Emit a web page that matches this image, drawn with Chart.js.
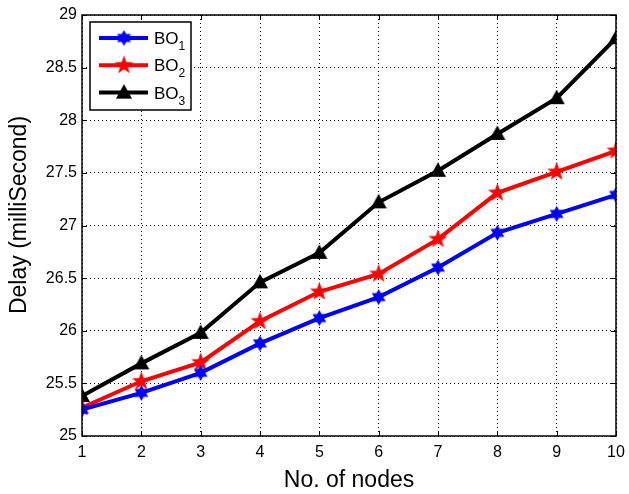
<!DOCTYPE html>
<html>
<head>
<meta charset="utf-8" />
<title>Delay vs nodes</title>
<script src="https://cdn.jsdelivr.net/npm/chart.js"></script>
<style>
  html, body { margin: 0; padding: 0; background: #fff; }
  #wrap { width: 629px; height: 494px; position: relative; }
</style>
</head>
<body>
<div id="wrap"><canvas id="chart"></canvas></div>
<script>
// delay per number of nodes, one list per BO value
const nodes = [1, 2, 3, 4, 5, 6, 7, 8, 9, 10];
const bo1 = [25.25, 25.41, 25.60, 25.88, 26.12, 26.32, 26.60, 26.93, 27.11, 27.29];
const bo2 = [25.27, 25.52, 25.70, 26.09, 26.37, 26.54, 26.87, 27.31, 27.51, 27.71];
const bo3 = [25.38, 25.69, 25.98, 26.46, 26.74, 27.22, 27.52, 27.87, 28.21, 28.78];
const yTicks = [25, 25.5, 26, 26.5, 27, 27.5, 28, 28.5, 29];
const seriesNames = ['1', '2', '3'];

const FONT = '"Liberation Sans", Arial, sans-serif';

// filled marker shapes, drawn once to small canvases
function makeMarker(kind, color, size) {
    const c = document.createElement('canvas');
    c.width = size; c.height = size;
    const g = c.getContext('2d');
    const cx = size / 2, cy = size / 2, R = size / 2 - 0.5;
    g.beginPath();
    if (kind === 'tri') {
        g.moveTo(cx, cy - R);
        g.lineTo(cx + R * 0.95, cy + R * 0.7);
        g.lineTo(cx - R * 0.95, cy + R * 0.7);
    } else {
        const n = kind === 'hex' ? 6 : 5;
        const r = kind === 'hex' ? R * 0.577 : R * 0.4;
        for (let i = 0; i < n * 2; i++) {
            const a = -Math.PI / 2 + i * Math.PI / n;
            const rr = i % 2 ? r : R;
            const px = cx + rr * Math.cos(a), py = cy + rr * Math.sin(a);
            if (i === 0) g.moveTo(px, py); else g.lineTo(px, py);
        }
    }
    g.closePath();
    g.fillStyle = color;
    g.fill();
    return c;
}

const markers = [
    makeMarker('hex', '#0000ff', 17),
    makeMarker('pent', '#ff0000', 21),
    makeMarker('tri', '#000000', 18)
];
const colors = ['#0000ff', '#ff0000', '#000000'];

// solid frame, inward ticks, y title and the boxed legend
const framePlugin = {
    id: 'frame',
    afterDraw(chart) {
        const ctx = chart.ctx;
        const a = chart.chartArea;
        const xs = chart.scales.x, ys = chart.scales.y;
        ctx.save();
        ctx.strokeStyle = '#000';
        ctx.lineWidth = 1.5;
        ctx.strokeRect(a.left, a.top, a.right - a.left, a.bottom - a.top);
        ctx.lineWidth = 1;
        ctx.beginPath();
        nodes.forEach(v => {
            const px = Math.round(xs.getPixelForValue(v)) + 0.5;
            ctx.moveTo(px, a.bottom); ctx.lineTo(px, a.bottom - 5);
            ctx.moveTo(px, a.top); ctx.lineTo(px, a.top + 5);
        });
        yTicks.forEach(v => {
            const py = Math.round(ys.getPixelForValue(v)) + 0.5;
            ctx.moveTo(a.left, py); ctx.lineTo(a.left + 5, py);
            ctx.moveTo(a.right, py); ctx.lineTo(a.right - 5, py);
        });
        ctx.stroke();

        // y axis title
        ctx.save();
        ctx.translate(20, 215);
        ctx.rotate(-Math.PI / 2);
        ctx.fillStyle = '#000';
        ctx.font = '23px ' + FONT;
        ctx.textAlign = 'center';
        ctx.textBaseline = 'middle';
        ctx.fillText('Delay (milliSecond)', 0, 0);
        ctx.restore();

        // legend
        const lx = 90, ly = 22, lw = 101, lh = 88;
        ctx.fillStyle = '#fff';
        ctx.fillRect(lx, ly, lw, lh);
        ctx.lineWidth = 1.5;
        ctx.strokeStyle = '#000';
        ctx.strokeRect(lx, ly, lw, lh);
        seriesNames.forEach((s, i) => {
            const yy = 38 + i * 27.3;
            ctx.strokeStyle = colors[i];
            ctx.lineWidth = 4;
            ctx.beginPath();
            ctx.moveTo(99, yy); ctx.lineTo(148, yy);
            ctx.stroke();
            const m = markers[i];
            ctx.drawImage(m, 124 - m.width / 2, yy - m.height / 2);
            ctx.fillStyle = '#000';
            ctx.textBaseline = 'alphabetic';
            ctx.textAlign = 'left';
            ctx.font = '17px ' + FONT;
            ctx.fillText('BO', 154, yy + 6);
            const w = ctx.measureText('BO').width;
            ctx.font = '12px ' + FONT;
            ctx.fillText(s, 154 + w, yy + 12);
        });
        ctx.restore();
    }
};

const datasets = [bo1, bo2, bo3].map((d, i) => ({
    label: 'BO' + seriesNames[i],
    data: d,
    borderColor: colors[i],
    backgroundColor: colors[i],
    borderWidth: 4,
    pointStyle: markers[i],
    pointRadius: 9,
    tension: 0
}));

new Chart(document.getElementById('chart'), {
    type: 'line',
    data: { labels: nodes, datasets: datasets },
    options: {
        responsive: true,
        maintainAspectRatio: false,
        animation: false,
        layout: { padding: { left: 0, right: 0, top: 15, bottom: 0 } },
        plugins: { legend: { display: false }, tooltip: { enabled: false } },
        scales: {
            x: {
                type: 'linear',
                min: 1, max: 10,
                afterBuildTicks(scale) { scale.ticks = nodes.map(v => ({ value: v })); },
                afterFit(scale) { scale.height = 58; scale.paddingRight = 8; },
                grid: { color: '#000', lineWidth: 1, drawTicks: false, borderDash: [1, 3] },
                border: { display: false, dash: [1, 3] },
                ticks: { color: '#000', font: { family: FONT, size: 16 }, padding: 7, callback: v => String(v) },
                title: {
                    display: true, text: 'No. of nodes', color: '#000',
                    font: { family: FONT, size: 23 }, padding: { top: 9, bottom: 0 }
                }
            },
            y: {
                min: 25, max: 29,
                afterBuildTicks(scale) { scale.ticks = yTicks.map(v => ({ value: v })); },
                afterFit(scale) { scale.width = 82; },
                grid: { color: '#000', lineWidth: 1, drawTicks: false, borderDash: [1, 3] },
                border: { display: false, dash: [1, 3] },
                ticks: { color: '#000', font: { family: FONT, size: 16 }, padding: 5, callback: v => String(v) }
            }
        }
    },
    plugins: [framePlugin]
});
</script>
</body>
</html>
